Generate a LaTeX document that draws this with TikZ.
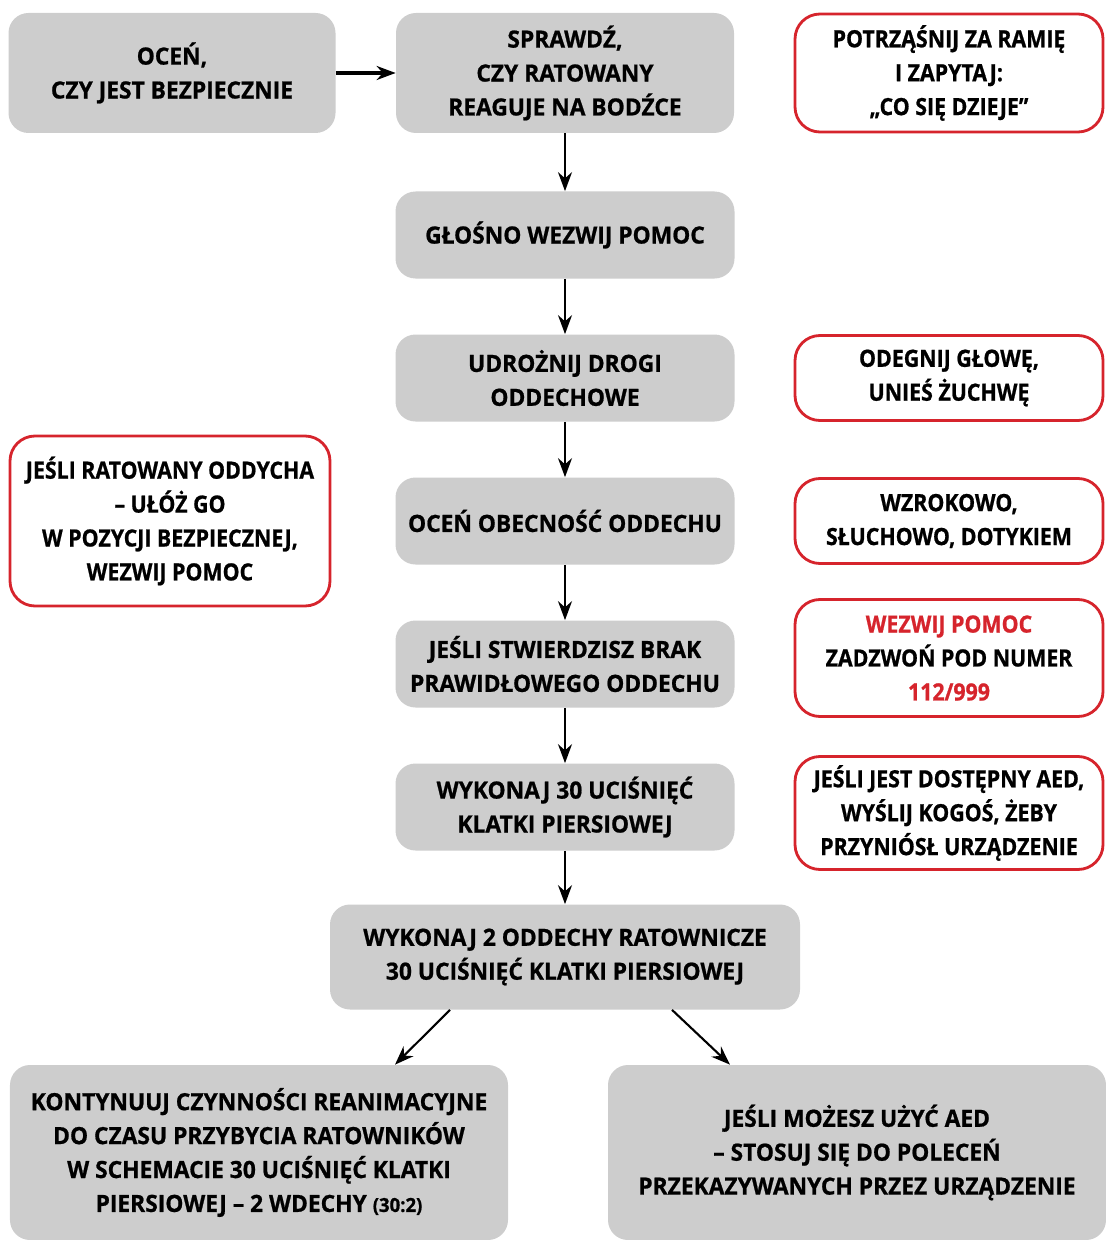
\documentclass[tikz,border=0pt]{standalone}
\usepackage{fontspec}
\usetikzlibrary{arrows.meta}
\setmainfont{Open Sans}
\newfontfamily\waskie{Open Sans}[FakeStretch=0.96, BoldFeatures={FakeBold=0.8}]
\newfontfamily\szeroki{Open Sans}[FakeStretch=0.9, BoldFeatures={FakeBold=0.8}]
\newcommand{\rozmiar}{\fontsize{13.5}{19.3}\selectfont\bfseries}

\begin{document}
\begin{tikzpicture}[node distance=2.86cm]
            \definecolor{szary}{RGB}{205,205,205}
            \definecolor{czerwony}{RGB}{214,36,44}
            \tikzstyle{etapy} = [rectangle, rounded corners=0.4cm,
            minimum width=6.78cm,
            minimum height=1.74cm,
            text centered, align=center,
            fill=szary,
            font=\waskie\rozmiar]
            \tikzstyle{uwagi} = [rectangle, rounded corners=0.5cm,
            minimum width=6.16cm,
            minimum height=1.7cm,
            align=center,
            draw=czerwony, line width=1.6pt,
            fill=white,
            font=\szeroki\rozmiar]
            \tikzstyle{strzalka} = [line width=1.2pt,-{Stealth[length=0.38cm,width=0.28cm]},black]
            \useasboundingbox (0,0) rectangle (22.1,-24.8);
            % kolumna glowna
            \node (krok1)[etapy, minimum width=6.76cm, minimum height=2.4cm] at (11.3,-1.46) {SPRAWDŹ,\\CZY RATOWANY\\REAGUJE NA BODŹCE};
            \node (krok0)[etapy, node distance=7.86cm, left of=krok1, minimum width=6.54cm, minimum height=2.4cm] {OCEŃ,\\CZY JEST BEZPIECZNIE};
            \node (krok2)[etapy, node distance=3.24cm, below of=krok1] {GŁOŚNO WEZWIJ POMOC};
            \node (krok3)[etapy, below of=krok2] {UDROŻNIJ DROGI\\ODDECHOWE};
            \node (krok4)[etapy, below of=krok3] {OCEŃ OBECNOŚĆ ODDECHU};
            \node (krok5)[etapy, below of=krok4] {JEŚLI STWIERDZISZ BRAK\\PRAWIDŁOWEGO ODDECHU};
            \node (krok6)[etapy, below of=krok5] {WYKONAJ 30 UCIŚNIĘĆ\\KLATKI PIERSIOWEJ};
            \node (krok7)[etapy, node distance=3cm, below of=krok6, minimum width=9.4cm, minimum height=2.1cm] {WYKONAJ 2 ODDECHY RATOWNICZE\\30 UCIŚNIĘĆ KLATKI PIERSIOWEJ};
            \node (dol1)[etapy, minimum width=9.96cm, minimum height=3.5cm] at (5.18,-23.05) {KONTYNUUJ CZYNNOŚCI REANIMACYJNE\\DO CZASU PRZYBYCIA RATOWNIKÓW\\W SCHEMACIE 30 UCIŚNIĘĆ KLATKI\\PIERSIOWEJ – 2 WDECHY {\fontsize{11}{19.3}\selectfont (30:2)}};
            \node (dol2)[etapy, minimum width=9.96cm, minimum height=3.5cm] at (17.14,-23.05) {JEŚLI MOŻESZ UŻYĆ AED\\– STOSUJ SIĘ DO POLECEŃ\\PRZEKAZYWANYCH PRZEZ URZĄDZENIE};
            % uwagi z boku
            \node (uwaga1)[uwagi, node distance=7.68cm, right of=krok1, minimum height=2.36cm] {POTRZĄŚNIJ ZA RAMIĘ\\I ZAPYTAJ:\\„CO SIĘ DZIEJE”};
            \node (uwaga2)[uwagi, node distance=7.68cm, right of=krok3] {ODEGNIJ GŁOWĘ,\\UNIEŚ ŻUCHWĘ};
            \node (uwaga3)[uwagi, node distance=7.68cm, right of=krok4] {WZROKOWO,\\SŁUCHOWO, DOTYKIEM};
            \node (uwaga4)[uwagi, node distance=7.68cm, right of=krok5, yshift=0.12cm, minimum height=2.34cm] {\textcolor{czerwony}{WEZWIJ POMOC}\\ZADZWOŃ POD NUMER\\\textcolor{czerwony}{112/999}};
            \node (uwaga5)[uwagi, node distance=7.68cm, right of=krok6, yshift=-0.12cm, minimum height=2.26cm] {JEŚLI JEST DOSTĘPNY AED,\\WYŚLIJ KOGOŚ, ŻEBY\\PRZYNIÓSŁ URZĄDZENIE};
            \node (uwaga0)[uwagi, node distance=7.9cm, left of=krok4, minimum width=6.4cm, minimum height=3.4cm] {JEŚLI RATOWANY ODDYCHA\\– UŁÓŻ GO\\W POZYCJI BEZPIECZNEJ,\\WEZWIJ POMOC};

            \draw [strzalka, line width=1.8pt] (krok0) -- (krok1);
            \draw [strzalka] (krok1) -- (krok2);
            \draw [strzalka] (krok2) -- (krok3);
            \draw [strzalka] (krok3) -- (krok4);
            \draw [strzalka] (krok4) -- (krok5);
            \draw [strzalka] (krok5) -- (krok6);
            \draw [strzalka] (krok6) -- (krok7);
            \draw [strzalka] ([xshift=-2.3cm]krok7.south) -- ([xshift=2.72cm]dol1.north);
            \draw [strzalka] ([xshift=2.14cm]krok7.south) -- ([xshift=-2.54cm]dol2.north);
        \end{tikzpicture}
\end{document}
